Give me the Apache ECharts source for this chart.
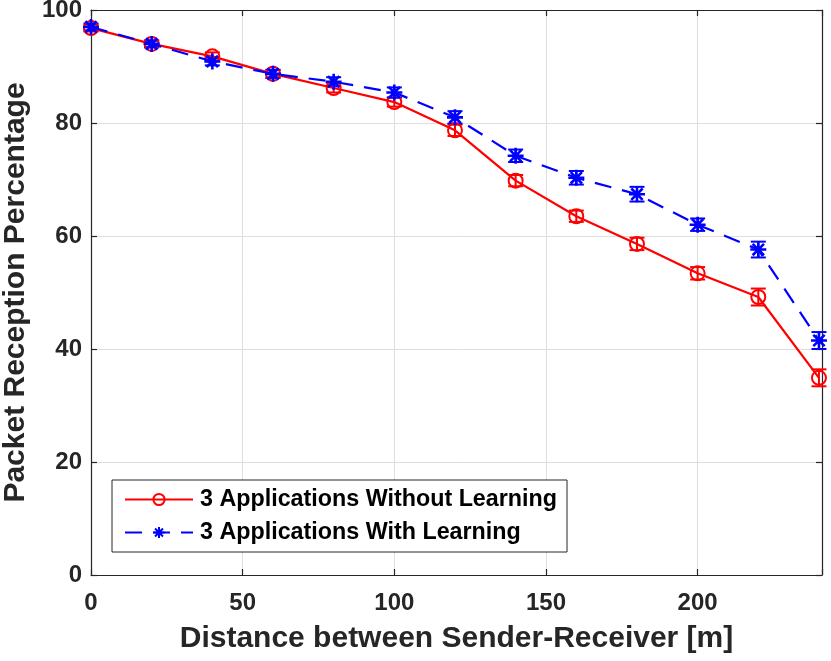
<!DOCTYPE html>
<html>
<head>
<meta charset="utf-8">
<script src="https://cdn.jsdelivr.net/npm/echarts@6/dist/echarts.min.js"></script>
<style>
html,body{margin:0;padding:0;background:#fff;}
#chart{width:831px;height:661px;}
</style>
</head>
<body>
<div id="chart"></div>
<script>
const distances = [0, 20, 40, 60, 80, 100, 120, 140, 160, 180, 200, 220, 240];
const withoutLearning = [96.8, 94.0, 91.8, 88.7, 86.2, 83.7, 78.7, 69.8, 63.5, 58.6, 53.4, 49.2, 34.9];
const withoutLearningErr = [0.6, 0.6, 0.7, 0.7, 0.8, 0.8, 1.0, 1.0, 1.0, 1.1, 1.1, 1.5, 1.5];
const withLearning = [97.0, 94.0, 90.9, 88.7, 87.3, 85.4, 81.0, 74.2, 70.3, 67.4, 62.0, 57.6, 41.5];
const withLearningErr = [0.6, 0.6, 0.7, 0.7, 0.8, 0.9, 1.1, 1.1, 1.2, 1.3, 1.1, 1.4, 1.5];
const seriesNames = ['3 Applications Without Learning', '3 Applications With Learning'];
const xTicks = [0, 50, 100, 150, 200];
const yTicks = [0, 20, 40, 60, 80, 100];

const TXT = '#262626';
const FONT = '"Liberation Sans", Arial, Helvetica, sans-serif';
const asterisk = 'path://M5,0L5,10M0,5L10,5M1.46,1.46L8.54,8.54M1.46,8.54L8.54,1.46';

function pairs(ys) { return distances.map((x, i) => [x, ys[i]]); }
function errData(ys, es) { return distances.map((x, i) => [x, ys[i] - es[i], ys[i] + es[i]]); }

function errRender(color) {
  return function (params, api) {
    const x = api.value(0);
    const lo = api.coord([x, api.value(1)]);
    const hi = api.coord([x, api.value(2)]);
    const w = 7.5;
    const st = { stroke: color, lineWidth: 2 };
    return {
      type: 'group',
      children: [
        { type: 'line', shape: { x1: lo[0], y1: lo[1], x2: hi[0], y2: hi[1] }, style: st },
        { type: 'line', shape: { x1: lo[0] - w, y1: lo[1], x2: lo[0] + w, y2: lo[1] }, style: st },
        { type: 'line', shape: { x1: hi[0] - w, y1: hi[1], x2: hi[0] + w, y2: hi[1] }, style: st }
      ]
    };
  };
}

const chart = echarts.init(document.getElementById('chart'), null, { renderer: 'canvas' });
const axisLineStyle = { color: TXT, width: 1.2 };
chart.setOption({
  animation: false,
  backgroundColor: '#fff',
  textStyle: { fontFamily: FONT },
  grid: { left: 91, right: 9, top: 10, bottom: 86, containLabel: false, outerBoundsMode: 'none' },
  legend: {
    left: 112, top: 480,
    orient: 'vertical',
    data: seriesNames,
    itemWidth: 68, itemHeight: 14, itemGap: 10,
    padding: [8, 10, 8, 12],
    backgroundColor: '#fff',
    borderColor: TXT, borderWidth: 1,
    borderRadius: 0,
    textStyle: { fontFamily: FONT, fontWeight: 'bold', fontSize: 23.3, color: '#000', lineHeight: 22, padding: [0, 0, 0, 2] }
  },
  xAxis: [{
    type: 'value', min: 0, max: 241, interval: 50,
    name: 'Distance between Sender-Receiver [m]', nameLocation: 'middle', nameGap: 49,
    nameTextStyle: { fontFamily: FONT, fontWeight: 'bold', fontSize: 30, color: TXT },
    axisLine: { show: true, lineStyle: axisLineStyle, onZero: false },
    axisTick: { show: true, inside: true, length: 6, lineStyle: axisLineStyle },
    axisLabel: { fontFamily: FONT, fontWeight: 'bold', fontSize: 24, color: TXT, margin: 16,
      formatter: v => xTicks.indexOf(v) >= 0 ? String(v) : '' },
    splitLine: { show: true, lineStyle: { color: '#dedede', width: 1 } }
  }, {
    type: 'value', position: 'top', min: 0, max: 241, interval: 50,
    axisLine: { show: true, lineStyle: axisLineStyle, onZero: false },
    axisTick: { show: true, inside: true, length: 6, lineStyle: axisLineStyle },
    axisLabel: { show: false }, splitLine: { show: false }
  }],
  yAxis: [{
    type: 'value', min: 0, max: 100, interval: 20,
    name: 'Packet Reception Percentage', nameLocation: 'middle', nameGap: 52,
    nameTextStyle: { fontFamily: FONT, fontWeight: 'bold', fontSize: 30, color: TXT },
    axisLine: { show: true, lineStyle: axisLineStyle, onZero: false },
    axisTick: { show: true, inside: true, length: 6, lineStyle: axisLineStyle },
    axisLabel: { fontFamily: FONT, fontWeight: 'bold', fontSize: 24, color: TXT, margin: 9,
      formatter: v => yTicks.indexOf(v) >= 0 ? String(v) : '' },
    splitLine: { show: true, lineStyle: { color: '#dedede', width: 1 } }
  }, {
    type: 'value', position: 'right', min: 0, max: 100, interval: 20,
    axisLine: { show: true, lineStyle: axisLineStyle, onZero: false },
    axisTick: { show: true, inside: true, length: 6, lineStyle: axisLineStyle },
    axisLabel: { show: false }, splitLine: { show: false }
  }],
  series: [
    {
      type: 'custom', name: 'err-red', silent: true, z: 3,
      renderItem: errRender('#ff0000'),
      encode: { x: 0, y: [1, 2] },
      data: errData(withoutLearning, withoutLearningErr)
    },
    {
      type: 'custom', name: 'err-blue', silent: true, z: 3,
      renderItem: errRender('#0000ff'),
      encode: { x: 0, y: [1, 2] },
      data: errData(withLearning, withLearningErr)
    },
    {
      type: 'line', name: seriesNames[0], z: 4,
      data: pairs(withoutLearning),
      symbol: 'circle', symbolSize: 14, showAllSymbol: true,
      lineStyle: { color: '#ff0000', width: 2.2, type: 'solid' },
      itemStyle: { color: 'rgba(255,255,255,0)', borderColor: '#ff0000', borderWidth: 2 }
    },
    {
      type: 'line', name: seriesNames[1], z: 5,
      data: pairs(withLearning),
      symbol: asterisk, symbolSize: 16, showAllSymbol: true,
      lineStyle: { color: '#0000ff', width: 2.2, type: [17, 11] },
      itemStyle: { color: '#0000ff', borderColor: '#0000ff', borderWidth: 2.6 }
    }
  ]
});
</script>
</body>
</html>
